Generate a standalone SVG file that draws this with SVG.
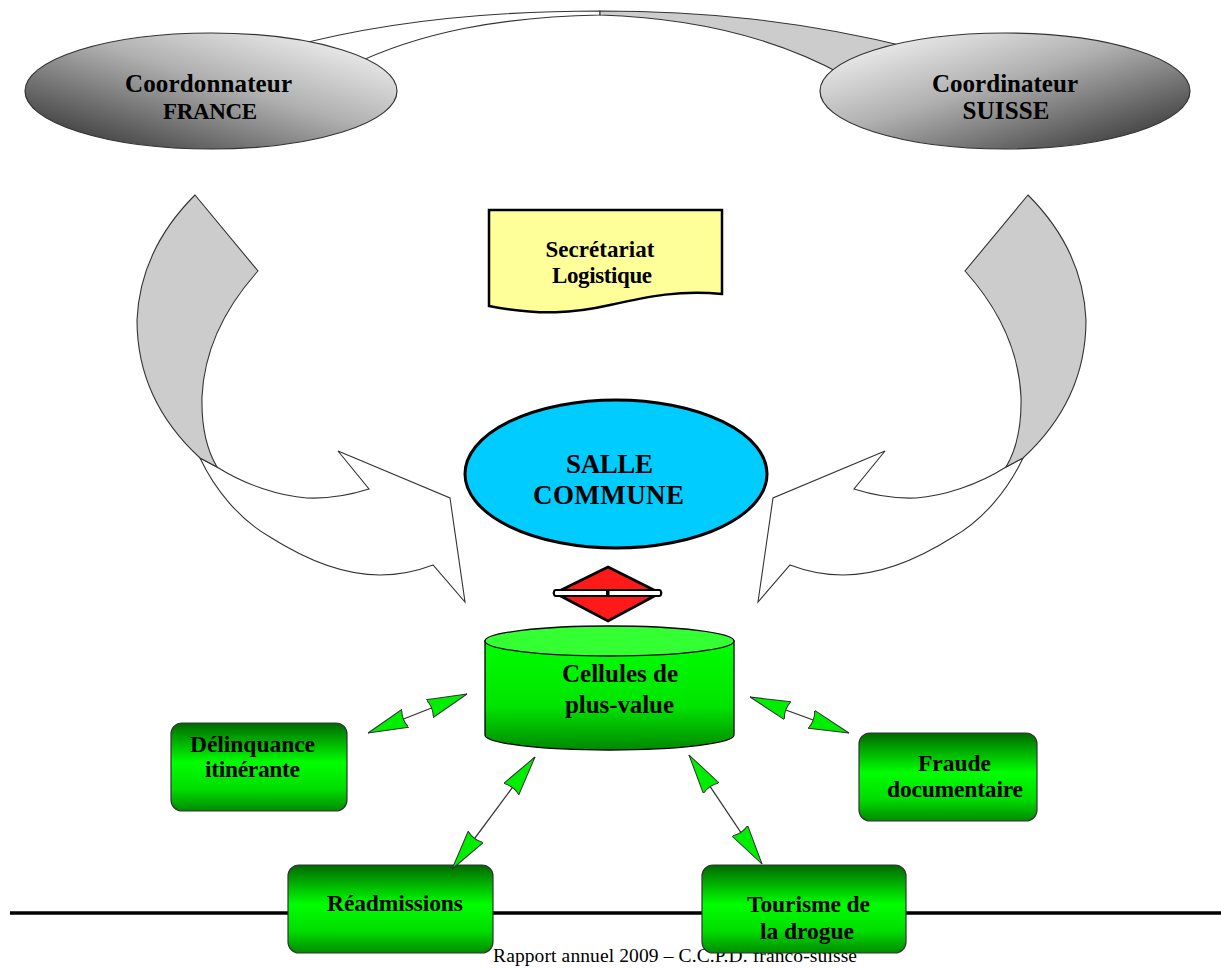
<svg xmlns="http://www.w3.org/2000/svg" width="1221" height="968" viewBox="0 0 1221 968">
<defs>
<style>
.lbl{font-family:"Liberation Serif","Times New Roman",serif;font-weight:bold;fill:#000;text-anchor:middle}
.foot{font-family:"Liberation Serif","Times New Roman",serif;font-size:19.5px;fill:#000}
.arw{stroke:#333;stroke-width:1.1;stroke-linejoin:miter}
.box{stroke:#333;stroke-width:1.2;fill:url(#gBox)}
.con{stroke:#333;stroke-width:1.3;fill:none;marker-start:url(#ah);marker-end:url(#ah)}
</style>
<linearGradient id="gFr" x1="0" y1="1" x2="1" y2="0">
<stop offset="0" stop-color="#262626"/><stop offset="0.55" stop-color="#b0b0b0"/><stop offset="1" stop-color="#ffffff"/>
</linearGradient>
<linearGradient id="gCh" x1="0" y1="0" x2="1" y2="1">
<stop offset="0" stop-color="#ffffff"/><stop offset="0.45" stop-color="#b0b0b0"/><stop offset="1" stop-color="#262626"/>
</linearGradient>
<linearGradient id="gBox" x1="0" y1="0" x2="0" y2="1">
<stop offset="0" stop-color="#006800"/><stop offset="0.45" stop-color="#00ff00"/><stop offset="0.75" stop-color="#00dd00"/><stop offset="1" stop-color="#008a00"/>
</linearGradient>
<linearGradient id="gCyl" x1="0" y1="0" x2="0" y2="1">
<stop offset="0" stop-color="#00ff00"/><stop offset="0.6" stop-color="#00e400"/><stop offset="1" stop-color="#008800"/>
</linearGradient>
<marker id="ah" viewBox="0 0 40 20" refX="40" refY="10" markerWidth="40" markerHeight="20" markerUnits="userSpaceOnUse" orient="auto-start-reverse">
<path d="M40,10 L0,0.5 Q4,10 0,19.5 Z" fill="#00ee00" stroke="#333" stroke-width="1"/>
</marker>
</defs>
<rect width="1221" height="968" fill="#fff"/>

<g id="footer">
<line x1="10" y1="913" x2="1221" y2="913" stroke="#000" stroke-width="3.5"/>
<text class="foot" x="493" y="962" textLength="364">Rapport annuel 2009 – C.C.P.D. franco-suisse</text>
</g>

<g id="ribbon">
<path class="arw" d="M285,48 C380,22 490,11 600,11 L600,15 C500,17 420,32 350,66 Z" fill="#fff"/>
<path class="arw" d="M600,11 C700,11 800,20 912,48 L845,76 C780,40 700,18 600,15 Z" fill="#cccccc"/>
</g>

<g id="arrow-left">
<path class="arw" d="M200,458 C215,490 240,520 270,537 C300,556 340,575 380,575 C400,575 420,570 433,565 L465,602 L450,498 L338,451 L369,489 C350,495 330,499 307,498 C280,496 245,485 217,467 Z" fill="#fff"/>
<path class="arw" d="M195,195 L258,271 Q205,330 202,397 Q201,440 217,467 L200,458 Q137,400 137,320 Q140,250 195,195 Z" fill="#cccccc"/>
</g>
<g id="arrow-right" transform="translate(1223,0) scale(-1,1)">
<path class="arw" d="M200,458 C215,490 240,520 270,537 C300,556 340,575 380,575 C400,575 420,570 433,565 L465,602 L450,498 L338,451 L369,489 C350,495 330,499 307,498 C280,496 245,485 217,467 Z" fill="#fff"/>
<path class="arw" d="M195,195 L258,271 Q205,330 202,397 Q201,440 217,467 L200,458 Q137,400 137,320 Q140,250 195,195 Z" fill="#cccccc"/>
</g>

<g id="coord-france">
<ellipse cx="211" cy="91" rx="186" ry="58" fill="url(#gFr)" stroke="#333" stroke-width="1.2"/>
<text class="lbl" font-size="25" x="208.5" y="92" textLength="167">Coordonnateur</text>
<text class="lbl" font-size="23" x="210" y="119" textLength="94">FRANCE</text>
</g>

<g id="coord-suisse">
<ellipse cx="1005" cy="91" rx="185" ry="58" fill="url(#gCh)" stroke="#333" stroke-width="1.2"/>
<text class="lbl" font-size="25" x="1005" y="92" textLength="146">Coordinateur</text>
<text class="lbl" font-size="25" x="1006" y="119" textLength="87">SUISSE</text>
</g>

<g id="secretariat">
<path d="M489,210 H722 V294 C680,290 650,296 610,305 C575,313 540,316 489,306 Z" fill="#ffff99" stroke="#000" stroke-width="2.5"/>
<text class="lbl" font-size="23" x="600" y="257" textLength="109">Secrétariat</text>
<text class="lbl" font-size="23" x="602" y="283" textLength="100">Logistique</text>
</g>

<g id="salle-commune">
<ellipse cx="616" cy="474" rx="151" ry="74" fill="#00ccff" stroke="#000" stroke-width="3"/>
<text class="lbl" font-size="27" x="609.5" y="473" textLength="87">SALLE</text>
<text class="lbl" font-size="27" x="608.5" y="504" textLength="151">COMMUNE</text>
</g>

<g id="link-symbol">
<polygon points="608,567 660,593 608,621 555,593" fill="#ff1a1a" stroke="#000" stroke-width="2.8"/>
<rect x="554" y="590" width="107" height="6" rx="2" fill="#fff" stroke="#000" stroke-width="2"/>
<rect x="606" y="590" width="3.5" height="6" fill="#000"/>
</g>

<g id="cellules">
<path d="M485,641 L485,735 A124.5,15 0 0 0 734,735 L734,641 Z" fill="url(#gCyl)" stroke="#000" stroke-width="1.3"/>
<ellipse cx="609.5" cy="641" rx="124.5" ry="15" fill="#33ff33" stroke="#000" stroke-width="1.3"/>
<text class="lbl" font-size="25" x="620" y="682" textLength="116">Cellules de</text>
<text class="lbl" font-size="25" x="619.5" y="713" textLength="109">plus-value</text>
</g>

<g id="delinquance">
<rect class="box" x="171" y="723" width="176" height="88" rx="11"/>
<text class="lbl" font-size="23.5" x="252.5" y="752" textLength="125">Délinquance</text>
<text class="lbl" font-size="23.5" x="252.5" y="777" textLength="95">itinérante</text>
</g>

<g id="fraude">
<rect class="box" x="859" y="733" width="178" height="88" rx="11"/>
<text class="lbl" font-size="23.5" x="954.5" y="771" textLength="73">Fraude</text>
<text class="lbl" font-size="23.5" x="955" y="797" textLength="136">documentaire</text>
</g>

<g id="readmissions">
<rect class="box" x="288" y="865" width="205" height="88" rx="11"/>
<text class="lbl" font-size="23.5" x="395" y="911" textLength="136">Réadmissions</text>
</g>

<g id="tourisme">
<rect class="box" x="702" y="865" width="204" height="88" rx="11"/>
<text class="lbl" font-size="23.5" x="808.5" y="912" textLength="123">Tourisme de</text>
<text class="lbl" font-size="23.5" x="807" y="939" textLength="94">la drogue</text>
</g>

<g id="connectors">
<line class="con" x1="368" y1="733" x2="467" y2="694"/>
<line class="con" x1="452" y1="869" x2="535" y2="757"/>
<line class="con" x1="750" y1="697" x2="849" y2="733"/>
<line class="con" x1="689" y1="755" x2="762" y2="864"/>
</g>
</svg>
